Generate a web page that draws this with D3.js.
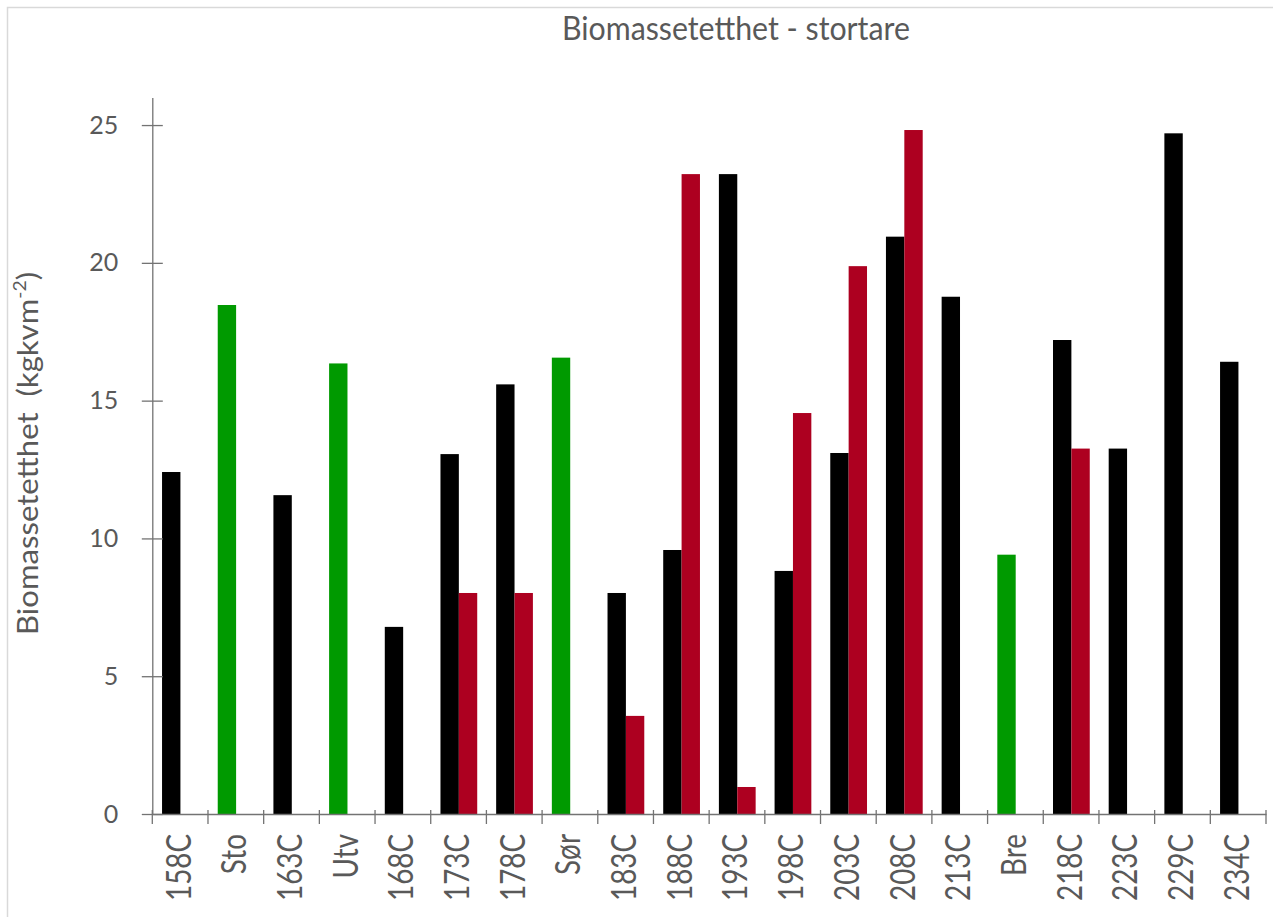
<!DOCTYPE html>
<html>
<head>
<meta charset="utf-8">
<script src="https://cdn.jsdelivr.net/npm/d3@7"></script>
<style>
  html, body { margin: 0; padding: 0; background: #fff; }
  svg { display: block; font-family: Lato, "Open Sans", sans-serif; }
  text { white-space: pre; }
</style>
</head>
<body>
<svg id="chart" width="1273" height="917"></svg>
<script>
// ---- data ----
const categories = ["158C","Sto","163C","Utv","168C","173C","178C","Sør","183C","188C","193C","198C","203C","208C","213C","Bre","218C","223C","229C","234C"];
const referenceSites = ["Sto","Utv","Sør","Bre"];
const seriesMain = [12.41, 18.47, 11.57, 16.35, 6.79, 13.06, 15.59, 16.56, 8.02, 9.58, 23.22, 8.82, 13.1, 20.95, 18.77, 9.41, 17.2, 13.26, 24.7, 16.41];
const seriesRed  = [null, null, null, null, null, 8.02, 8.02, null, 3.56, 23.22, 0.98, 14.55, 19.88, 24.82, null, null, 13.26, null, null, null];
const yTicks = [0, 5, 10, 15, 20, 25];
const titleText = "Biomassetetthet - stortare";
const yTitleMain = "Biomassetetthet  (kgkvm";
const yTitleSup = "-2";
const yTitleEnd = ")";

// ---- layout ----
const svg = d3.select("#chart");
const plotLeft = 152.3, plotRight = 1266, plotTop = 97.5, plotBottom = 814;
const textColor = "#595959", axisColor = "#737373";
const colBlack = "#000000", colGreen = "#009a00", colRed = "#ad0020";

// border
svg.append("rect").attr("x", 7.5).attr("y", 7.5).attr("width", 1400).attr("height", 1200)
  .attr("fill", "none").attr("stroke", "#d9d9d9").attr("stroke-width", 1.5);

const x0 = d3.scaleBand().domain(categories).range([plotLeft, plotRight]).paddingInner(0).paddingOuter(0);
const bw = x0.bandwidth();
const x1 = d3.scaleBand().domain(["main", "red"]).range([bw * 0.175, bw * 0.835]).padding(0);
const y = d3.scaleLinear().domain([0, 26]).range([plotBottom, plotTop]);

// bars
const data = categories.map((c, i) => ({ cat: c, main: seriesMain[i], red: seriesRed[i] }));
const g = svg.append("g");
data.forEach(d => {
  if (d.main != null) {
    g.append("rect")
      .attr("x", x0(d.cat) + x1("main"))
      .attr("y", y(d.main))
      .attr("width", x1.bandwidth())
      .attr("height", y(0) - y(d.main))
      .attr("fill", referenceSites.includes(d.cat) ? colGreen : colBlack);
  }
  if (d.red != null) {
    g.append("rect")
      .attr("x", x0(d.cat) + x1("red"))
      .attr("y", y(d.red))
      .attr("width", x1.bandwidth())
      .attr("height", y(0) - y(d.red))
      .attr("fill", colRed);
  }
});

// y axis
const yAxis = svg.append("g").attr("transform", `translate(${plotLeft},0)`)
  .call(d3.axisLeft(y).tickValues(yTicks).tickSizeInner(10.5).tickSizeOuter(0).tickPadding(23.5).tickFormat(d3.format("d")));
yAxis.select(".domain").attr("stroke", axisColor).attr("stroke-width", 1.3);
yAxis.selectAll(".tick line").attr("stroke", axisColor).attr("stroke-width", 1.3).attr("x2", -10.5).attr("x1", 10.5);
yAxis.selectAll(".tick text").attr("fill", textColor).attr("font-size", 25).attr("font-family", "Lato");

// x axis
const xAxis = svg.append("g").attr("transform", `translate(0,${plotBottom})`)
  .call(d3.axisBottom(x0).tickSize(0).tickSizeOuter(0).tickPadding(0));
xAxis.select(".domain").attr("stroke", axisColor).attr("stroke-width", 1.3);
// boundary ticks
const bounds = categories.map(c => x0(c)).concat([x0.range()[1]]);
xAxis.selectAll("line.bound").data(bounds).enter().append("line")
  .attr("class", "bound")
  .attr("x1", d => d).attr("x2", d => d)
  .attr("y1", -4).attr("y2", 10)
  .attr("stroke", axisColor).attr("stroke-width", 1.3);

const xTexts = xAxis.selectAll(".tick text")
  .attr("fill", textColor).attr("font-size", 34).attr("font-family", "Lato")
  .attr("text-anchor", "end").attr("y", 0).attr("dy", 0).attr("x", 0);
let refLen = 80;
xTexts.each(function(d) { if (d === "158C") refLen = this.getComputedTextLength(); });
const xs = 67 / refLen;
xTexts.attr("transform", `translate(10.5,20) rotate(-90) scale(${xs},1)`);

// title
const title = svg.append("text").attr("text-anchor", "middle")
  .attr("fill", textColor).attr("font-size", 32).text(titleText);
const tl = title.node().getComputedTextLength();
title.attr("transform", `translate(736,40) scale(${348 / tl},1)`);

// y title
const yt = svg.append("text").attr("text-anchor", "middle")
  .attr("fill", textColor).attr("font-size", 29);
yt.append("tspan").text(yTitleMain);
yt.append("tspan").attr("font-size", 18).attr("dy", -12).text(yTitleSup);
yt.append("tspan").attr("dy", 12).text(yTitleEnd);
const yl = yt.node().getComputedTextLength();
yt.attr("transform", `translate(38.3,453.5) rotate(-90) scale(${363 / yl},1)`);
</script>
</body>
</html>
